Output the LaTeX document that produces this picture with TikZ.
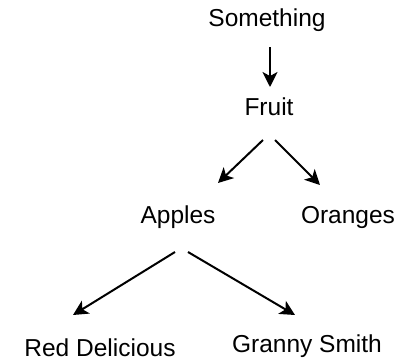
\documentclass[tikz,border=0pt]{standalone}
\usepackage{fontspec}
\setmainfont{Liberation Sans}
\usetikzlibrary{arrows.meta}

\tikzset{
  item/.style={anchor=base, inner sep=0pt, font=\fontsize{24.5}{28}\selectfont},
  link/.style={-{Stealth[length=15pt, width=15pt, inset=4pt]}, line width=2pt}
}

\begin{document}
\begin{tikzpicture}[x=1pt, y=-1pt]
        \useasboundingbox (0, 0) rectangle (408, 362);

        \node[item](something) at (267, 26) {Something};
        \node[item](fruit) at (269, 115) {Fruit};

        \node[item](apples) at (178, 223) {Apples};
        \node[item](oranges) at (348, 223) {Oranges};

        \node[item](red) at (100, 356) {Red Delicious};
        \node[item](granny) at (307, 352) {Granny Smith};

        \begin{scope}[every path/.style={link}]
            \draw ([xshift=3pt, yshift=-21pt]something.base) -- ([xshift=1pt, yshift=28pt]fruit.base);

            \draw ([xshift=-6pt, yshift=-25pt]fruit.base) -- ([xshift=40pt, yshift=40pt]apples.base);
            \draw ([xshift=6pt, yshift=-25pt]fruit.base) -- ([xshift=-28pt, yshift=38pt]oranges.base);

            \draw ([xshift=-3pt, yshift=-29pt]apples.base) -- ([xshift=-27pt, yshift=41pt]red.base);
            \draw ([xshift=10pt, yshift=-29pt]apples.base) -- ([xshift=-12pt, yshift=37pt]granny.base);
        \end{scope}
    \end{tikzpicture}
\end{document}
